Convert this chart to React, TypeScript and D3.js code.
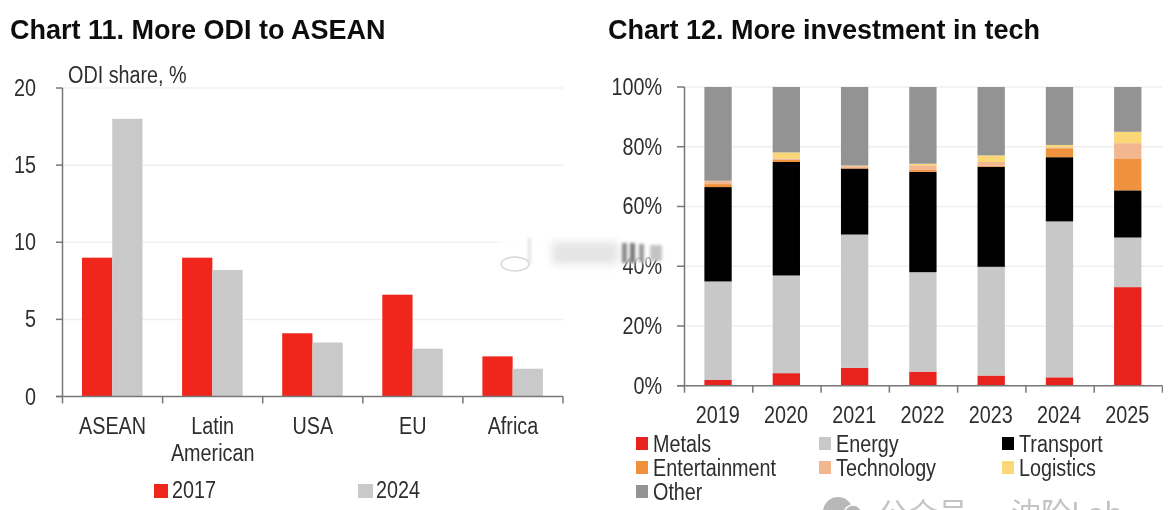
/**
 * Two side by side panels: ODI share by region and investment mix by sector.
 */
import * as d3 from "d3";

const REGIONS = ["ASEAN", "Latin American", "USA", "EU", "Africa"];
const ODI_2017 = [9, 9, 4.1, 6.6, 2.6];
const ODI_2024 = [18, 8.2, 3.5, 3.1, 1.8];
const ODI_TICKS = [0, 5, 10, 15, 20];

const YEARS = ["2019", "2020", "2021", "2022", "2023", "2024", "2025"];
const METALS = [1.9, 4.2, 6, 4.7, 3.4, 2.8, 33];
const ENERGY = [33, 32.7, 44.6, 33.3, 36.4, 52.2, 16.6];
const TRANSPORT = [31.6, 38, 22.1, 33.6, 33.5, 21.5, 15.8];
const ENTERTAINMENT = [1, 0.7, 0.2, 0.6, 0.4, 3, 10.5];
const TECHNOLOGY = [1, 0.5, 0.6, 1.6, 1.2, 0.3, 5.3];
const LOGISTICS = [0.1, 2, 0.2, 0.5, 2.2, 0.8, 3.8];
const OTHER = [31.4, 21.9, 26.3, 25.7, 22.9, 19.4, 15];
const SHARE_TICKS = [0, 20, 40, 60, 80, 100];

const SECTORS = [
  { name: "Metals", color: "#e8201a", values: METALS },
  { name: "Energy", color: "#c8c8c8", values: ENERGY },
  { name: "Transport", color: "#000000", values: TRANSPORT },
  { name: "Entertainment", color: "#f0923c", values: ENTERTAINMENT },
  { name: "Technology", color: "#f2b78e", values: TECHNOLOGY },
  { name: "Logistics", color: "#fad878", values: LOGISTICS },
  { name: "Other", color: "#939393", values: OTHER },
];

const FONT = "'Liberation Sans', Arial, sans-serif";
const CJK = "'Noto Sans CJK SC', sans-serif";
const INK = "#2e2e2e";
const GRID = "#efefef";
const AXIS = "#777777";

// the source image is squeezed sideways, so labels get narrowed too
function Label({ x, y, children, anchor = "start", size = 23, squeeze = 0.86 }: any) {
  return (
    <text
      transform={`translate(${x},${y}) scale(${squeeze},1)`}
      textAnchor={anchor}
      fontSize={size}
      fontFamily={FONT}
      fill={INK}
    >
      {children}
    </text>
  );
}

function OdiChart() {
  const x = d3.scaleBand().domain(REGIONS).range([62.5, 563]);
  const inner = d3.scaleBand().domain(["2017", "2024"]).range([19.5, 80]);
  const y = d3.scaleLinear().domain([0, 20]).range([396.5, 88]);

  return (
    <g>
      {ODI_TICKS.filter((t) => t > 0).map((t) => (
        <line key={t} x1={62.5} x2={563} y1={y(t)} y2={y(t)} stroke={GRID} strokeWidth={1.5} />
      ))}

      {REGIONS.map((r, i) => (
        <g key={r}>
          <rect
            x={x(r)! + inner("2017")!}
            width={inner.bandwidth()}
            y={y(ODI_2017[i])}
            height={y(0) - y(ODI_2017[i])}
            fill="#f0261a"
          />
          <rect
            x={x(r)! + inner("2024")!}
            width={inner.bandwidth()}
            y={y(ODI_2024[i])}
            height={y(0) - y(ODI_2024[i])}
            fill="#c9c9c9"
          />
        </g>
      ))}

      <line x1={62.5} x2={62.5} y1={y(20)} y2={y(0)} stroke={AXIS} strokeWidth={1.5} />
      <line x1={56} x2={563} y1={y(0)} y2={y(0)} stroke={AXIS} strokeWidth={1.5} />
      {ODI_TICKS.map((t) => (
        <g key={t}>
          <line x1={56} x2={62.5} y1={y(t)} y2={y(t)} stroke={AXIS} strokeWidth={1.5} />
          <Label x={36} y={y(t) + 8} anchor="end">{t}</Label>
        </g>
      ))}
      {[...REGIONS.map((r) => x(r)!), 563].map((v) => (
        <line key={v} x1={v} x2={v} y1={y(0)} y2={y(0) + 7} stroke={AXIS} strokeWidth={1.5} />
      ))}

      {REGIONS.map((r) => {
        const cx = x(r)! + x.bandwidth() / 2;
        const words = r.split(" ");
        return words.map((w, i) => (
          <Label key={w} x={cx} y={434 + i * 27} anchor="middle">{w}</Label>
        ));
      })}

      <Label x={68} y={83}>ODI share, %</Label>

      <rect x={154} y={484} width={14} height={14} fill="#f0261a" />
      <Label x={172} y={498}>2017</Label>
      <rect x={358} y={484} width={15} height={14} fill="#c9c9c9" />
      <Label x={376} y={498}>2024</Label>
    </g>
  );
}

function MixChart() {
  const x = d3.scaleBand().domain(YEARS).range([684.5, 1162.5]).paddingInner(0.6).paddingOuter(0.3);
  const y = d3.scaleLinear().domain([0, 100]).range([385.7, 87]);

  const rows = YEARS.map((year, i) => {
    const row: Record<string, any> = { year };
    SECTORS.forEach((s) => { row[s.name] = s.values[i]; });
    return row;
  });
  const series = d3.stack().keys(SECTORS.map((s) => s.name))(rows as any);
  const band = x.step();

  return (
    <g>
      {SHARE_TICKS.filter((t) => t > 0).map((t) => (
        <line key={t} x1={684.5} x2={1162.5} y1={y(t)} y2={y(t)} stroke={GRID} strokeWidth={1.5} />
      ))}

      {series.map((layer, k) => (
        <g key={layer.key} fill={SECTORS[k].color}>
          {layer.map((d, i) => (
            <rect
              key={YEARS[i]}
              x={x(YEARS[i])! - 0.6}
              width={x.bandwidth()}
              y={y(d[1])}
              height={y(d[0]) - y(d[1])}
            />
          ))}
        </g>
      ))}

      <line x1={684.5} x2={684.5} y1={y(100)} y2={y(0)} stroke={AXIS} strokeWidth={1.5} />
      <line x1={677} x2={1162.5} y1={y(0)} y2={y(0)} stroke={AXIS} strokeWidth={1.5} />
      {SHARE_TICKS.map((t) => (
        <g key={t}>
          <line x1={677} x2={684.5} y1={y(t)} y2={y(t)} stroke={AXIS} strokeWidth={1.5} />
          <Label x={662} y={y(t) + 8} anchor="end">{t}%</Label>
        </g>
      ))}
      {YEARS.map((yr, i) => (
        <line
          key={yr}
          x1={684.5 + i * band}
          x2={684.5 + i * band}
          y1={y(0)}
          y2={y(0) + 7}
          stroke={AXIS}
          strokeWidth={1.5}
        />
      ))}
      <line x1={1162.5} x2={1162.5} y1={y(0)} y2={y(0) + 7} stroke={AXIS} strokeWidth={1.5} />

      {YEARS.map((yr) => (
        <Label key={yr} x={x(yr)! + x.bandwidth() / 2 - 1} y={423} anchor="middle">{yr}</Label>
      ))}

      {SECTORS.map((s, i) => {
        const col = i % 3;
        const row = Math.floor(i / 3);
        const lx = [636, 819, 1002][col];
        const ly = 437 + row * 24;
        return (
          <g key={s.name}>
            <rect x={lx} y={ly} width={12} height={13} fill={s.color} />
            <Label x={lx + 17} y={ly + 15}>{s.name}</Label>
          </g>
        );
      })}
    </g>
  );
}

export default function App() {
  return (
    <svg width={1170} height={510} style={{ position: "absolute", left: 0, top: 0, background: "#fff" }}>
      <defs>
        <filter id="soft" x="0" y="0" width="100%" height="100%">
          <feGaussianBlur stdDeviation="0.45" />
        </filter>
        <filter id="smudge" x="-30%" y="-60%" width="160%" height="220%">
          <feGaussianBlur stdDeviation="4" />
        </filter>
        <filter id="streak" x="-60%" y="-30%" width="220%" height="160%">
          <feGaussianBlur stdDeviation="1.6" />
        </filter>
      </defs>

      <g filter="url(#soft)">
        <text x={10} y={39} fontSize={27} fontWeight={700} fontFamily={FONT} fill="#111">
          Chart 11. More ODI to ASEAN
        </text>
        <text x={608} y={39} fontSize={27} fontWeight={700} fontFamily={FONT} fill="#111">
          Chart 12. More investment in tech
        </text>

        <OdiChart />
        <MixChart />

        {/* the smudged stamp across the middle of the image */}
        <rect x={500} y={236} width={150} height={26} fill="#fff" filter="url(#smudge)" />
        <rect x={552} y={242} width={66} height={22} fill="#e4e4e4" filter="url(#smudge)" />
        <rect x={622} y={243} width={5} height={20} fill="#8a8a8a" filter="url(#streak)" />
        <rect x={630} y={243} width={5} height={20} fill="#777" filter="url(#streak)" />
        <rect x={639} y={244} width={5} height={18} fill="#999" filter="url(#streak)" />
        <rect x={650} y={245} width={12} height={16} fill="#c4c4c4" filter="url(#streak)" />
        <ellipse cx={515} cy={264} rx={14} ry={7} fill="none" stroke="#d6d6d6" strokeWidth={1.5} />
        <rect x={528} y={238} width={3} height={26} fill="#e2e2e2" filter="url(#streak)" />

        {/* watermark, cut by the bottom edge as in the source */}
        <circle cx={838} cy={512} r={15} fill="#b8b8b8" />
        <circle cx={853} cy={514} r={9} fill="#b8b8b8" stroke="#fff" strokeWidth={1.5} />
        <text x={878} y={524} fontSize={30} fontFamily={CJK} fill="#c4c4c4">公众号</text>
        <text x={1011} y={524} fontSize={30} fontFamily={CJK} fill="#c4c4c4">沈阶Lab</text>
      </g>
    </svg>
  );
}
